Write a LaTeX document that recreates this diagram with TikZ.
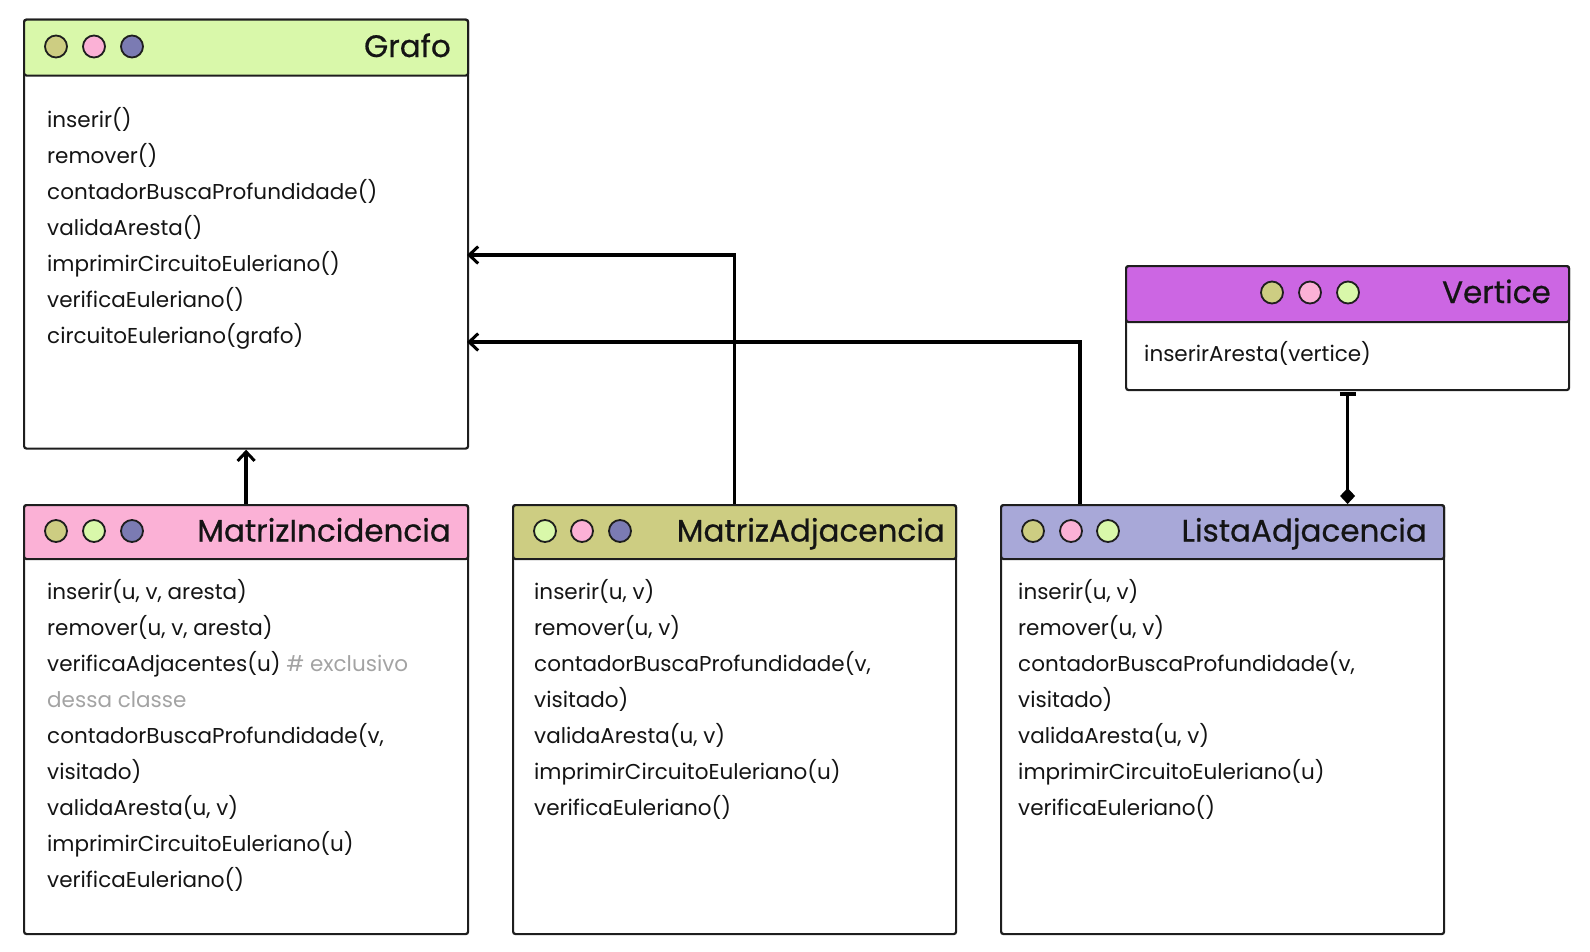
\documentclass[tikz,border=0pt]{standalone}
\usepackage{fontspec}
\setmainfont{Poppins}
\newfontfamily\titlefont{Poppins}[FakeBold=0.6]
\usetikzlibrary{arrows.meta}
\definecolor{cgreen}{HTML}{D9F8AA}
\definecolor{cpink}{HTML}{FBB1D6}
\definecolor{colive}{HTML}{CDCD82}
\definecolor{cblue}{HTML}{7B7BB3}
\definecolor{clav}{HTML}{A8A8D8}
\definecolor{cmag}{HTML}{CC66E3}
\definecolor{cgray}{HTML}{A3A3A3}
\definecolor{cline}{HTML}{1E1E1E}
\newcommand{\fl}{\rule{0pt}{20pt}}
\tikzset{
  box/.style={draw=cline, line width=2.2pt, rounded corners=2.5pt, anchor=north west, inner sep=0pt},
  hdr/.style={box, minimum height=56pt},
  dot/.style={circle, draw=cline, line width=1.8pt, minimum size=22pt, inner sep=0pt},
  ttl/.style={anchor=base east, inner sep=0pt, text=black!92, font=\titlefont\fontsize{31}{34}\selectfont},
  body/.style={anchor=north west, inner sep=0pt, align=left, text=black!92, font=\fontsize{21.5}{36}\selectfont},
  conn/.style={line width=3.3pt, draw=black},
  inh/.style={conn, -{Straight Barb[length=9pt,width=17pt,line width=3pt]}},
}
\begin{document}
\begin{tikzpicture}[x=1pt,y=-1pt]
\useasboundingbox (0,0) rectangle (1590,951);
% ---------- Grafo
\node[box, minimum width=444pt, minimum height=429pt] (grafo) at (23,18.5) {};
\node[hdr, fill=cgreen, minimum width=444pt] (grafoH) at (23,18.5) {};
\node[dot, fill=colive] (g1) at (56,46.5) {};
\node[dot, fill=cpink] (g2) at (94,46.5) {};
\node[dot, fill=cblue] (g3) at (132,46.5) {};
\node[ttl] (grafoT) at (451,57) {Grafo};
\node[body] (grafoB) at (47,107) {\fl inserir()\\remover()\\contadorBuscaProfundidade()\\validaAresta()\\imprimirCircuitoEuleriano()\\verificaEuleriano()\\circuitoEuleriano(grafo)};
% ---------- MatrizIncidencia
\node[box, minimum width=444pt, minimum height=429pt] (mi) at (23,504) {};
\node[hdr, fill=cpink, minimum width=444pt, minimum height=54pt] (miH) at (23,504) {};
\node[dot, fill=colive] (m1) at (56,531) {};
\node[dot, fill=cgreen] (m2) at (94,531) {};
\node[dot, fill=cblue] (m3) at (132,531) {};
\node[ttl] (miT) at (451,541.5) {MatrizIncidencia};
\node[body] (miB) at (47,579) {\fl inserir(u, v, aresta)\\remover(u, v, aresta)\\verificaAdjacentes(u) \textcolor{cgray}{\# exclusivo}\\\textcolor{cgray}{dessa classe}\\contadorBuscaProfundidade(v,\\visitado)\\validaAresta(u, v)\\imprimirCircuitoEuleriano(u)\\verificaEuleriano()};
% ---------- MatrizAdjacencia
\node[box, minimum width=443pt, minimum height=429pt] (ma) at (512,504) {};
\node[hdr, fill=colive, minimum width=443pt, minimum height=54pt] (maH) at (512,504) {};
\node[dot, fill=cgreen] (a1) at (545,531) {};
\node[dot, fill=cpink] (a2) at (582,531) {};
\node[dot, fill=cblue] (a3) at (620,531) {};
\node[ttl] (maT) at (945,541.5) {MatrizAdjacencia};
\node[body] (maB) at (534,579) {\fl inserir(u, v)\\remover(u, v)\\contadorBuscaProfundidade(v,\\visitado)\\validaAresta(u, v)\\imprimirCircuitoEuleriano(u)\\verificaEuleriano()};
% ---------- ListaAdjacencia
\node[box, minimum width=443pt, minimum height=429pt] (la) at (1000,504) {};
\node[hdr, fill=clav, minimum width=443pt, minimum height=54pt] (laH) at (1000,504) {};
\node[dot, fill=colive] (l1) at (1033,531) {};
\node[dot, fill=cpink] (l2) at (1071,531) {};
\node[dot, fill=cgreen] (l3) at (1108,531) {};
\node[ttl] (laT) at (1427,541.5) {ListaAdjacencia};
\node[body] (laB) at (1018,579) {\fl inserir(u, v)\\remover(u, v)\\contadorBuscaProfundidade(v,\\visitado)\\validaAresta(u, v)\\imprimirCircuitoEuleriano(u)\\verificaEuleriano()};
% ---------- Vertice
\node[box, minimum width=443pt, minimum height=124pt] (vt) at (1125,265) {};
\node[hdr, fill=cmag, minimum width=443pt] (vtH) at (1125,265) {};
\node[dot, fill=colive] (v1) at (1272,292.5) {};
\node[dot, fill=cpink] (v2) at (1310,292.5) {};
\node[dot, fill=cgreen] (v3) at (1348,292.5) {};
\node[ttl] (vtT) at (1551,303) {Vertice};
\node[body] (vtB) at (1144,341) {\fl inserirAresta(vertice)};
% ---------- connectors
\coordinate (gA) at (467,255);
\coordinate (gB) at (467,342);
\coordinate (laS) at (1080,504);
\draw[inh] (mi.north) -- (grafo.south);
\draw[inh] (ma.north) |- (gA);
\draw[inh] (laS) |- (gB);
\draw[conn, {Bar[width=16pt,line width=3.5pt]}-{Diamond[length=16pt,width=15pt]}, shorten <=1pt] (vt.south) -- (vt.south |- la.north);
\end{tikzpicture}
\end{document}
